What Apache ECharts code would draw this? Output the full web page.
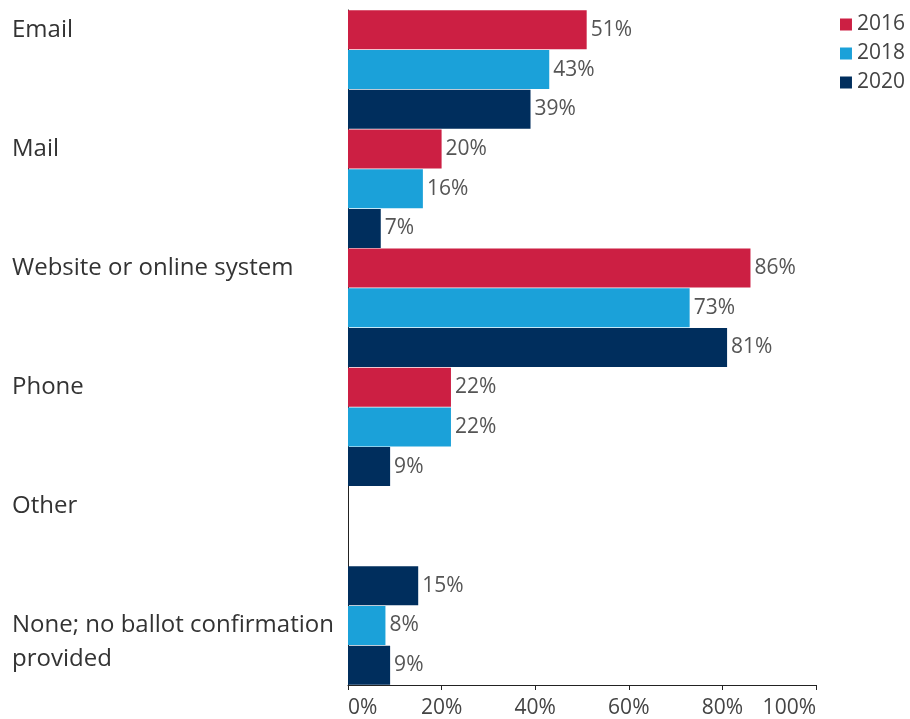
<!DOCTYPE html>
<html>
<head>
<meta charset="utf-8">
<script src="https://cdn.jsdelivr.net/npm/echarts@6/dist/echarts.min.js"></script>
<style>
  html, body { margin: 0; padding: 0; background: #fff; }
  #chart { width: 910px; height: 719px; }
</style>
</head>
<body>
<div id="chart"></div>
<script>
// categories, top to bottom
var categories = ['Email', 'Mail', 'Website or online system', 'Phone', 'Other', 'None; no ballot confirmation provided'];
var years = ['2016', '2018', '2020'];
// rows shown for each category (None has no 2016 row)
var rowYears = [
    ['2016', '2018', '2020'],
    ['2016', '2018', '2020'],
    ['2016', '2018', '2020'],
    ['2016', '2018', '2020'],
    ['2016', '2018', '2020'],
    ['2018', '2020']
];
// values in %, null = no bar
var values2016 = [51, 20, 86, 22, null, null];
var values2018 = [43, 16, 73, 22, null, 8];
var values2020 = [39, 7, 81, 9, 15, 9];
var xTicks = [0, 20, 40, 60, 80, 100];

var colors = { '2016': '#cc1f43', '2018': '#1ba1d9', '2020': '#002e5d' };
var valuesByYear = { '2016': values2016, '2018': values2018, '2020': values2020 };

// build one row per bar
var rowKeys = [];
var rowLabel = {};
categories.forEach(function (cat, ci) {
    rowYears[ci].forEach(function (yr, ri) {
        var key = cat + '|' + yr;
        rowKeys.push(key);
        if (ri == 0) {
            // leading empty line keeps the first line on the row centre
            rowLabel[key] = cat == 'None; no ballot confirmation provided'
                ? '\nNone; no ballot confirmation\nprovided' : cat;
        } else {
            rowLabel[key] = '';
        }
    });
});

function seriesData(yr) {
    return rowKeys.map(function (key) {
        var parts = key.split('|');
        if (parts[1] != yr) return null;
        var v = valuesByYear[yr][categories.indexOf(parts[0])];
        return v == null ? null : v;
    });
}

var font = '"Open Sans", sans-serif';
var chart = echarts.init(document.getElementById('chart'));

var option = {
    animation: false,
    textStyle: { fontFamily: font },
    legend: {
        orient: 'vertical',
        right: 0,
        top: 9,
        itemWidth: 12,
        itemHeight: 12,
        itemGap: 8,
        icon: 'rect',
        textStyle: { fontSize: 21, color: '#444', fontFamily: font },
        data: years
    },
    grid: { left: 348, right: 94, top: 10, bottom: 34 },
    xAxis: {
        type: 'value',
        min: 0,
        max: 100,
        interval: 20,
        splitLine: { show: false },
        axisLine: { show: true, lineStyle: { color: '#222', width: 1 } },
        axisTick: { show: true, length: 5, lineStyle: { color: '#222' } },
        axisLabel: {
            fontSize: 21,
            color: '#444',
            margin: 13,
            alignMinLabel: 'left',
            alignMaxLabel: 'right',
            formatter: function (v) { return xTicks.indexOf(v) >= 0 ? v + '%' : ''; }
        }
    },
    yAxis: {
        type: 'category',
        inverse: true,
        data: rowKeys,
        axisLine: { show: true, lineStyle: { color: '#222', width: 1 } },
        axisTick: { show: false },
        axisLabel: {
            interval: 0,
            align: 'left',
            margin: 336,
            fontSize: 24,
            lineHeight: 34,
            color: '#333',
            formatter: function (v) { return rowLabel[v]; }
        }
    },
    series: years.map(function (yr) {
        return {
            name: yr,
            type: 'bar',
            data: seriesData(yr),
            barWidth: 39,
            barGap: '-100%',
            itemStyle: { color: colors[yr] },
            label: {
                show: true,
                position: 'right',
                distance: 4,
                fontSize: 21,
                color: '#555',
                fontFamily: font,
                formatter: function (p) { return p.value == null ? '' : p.value + '%'; }
            }
        };
    })
};

chart.setOption(option);
</script>
</body>
</html>
